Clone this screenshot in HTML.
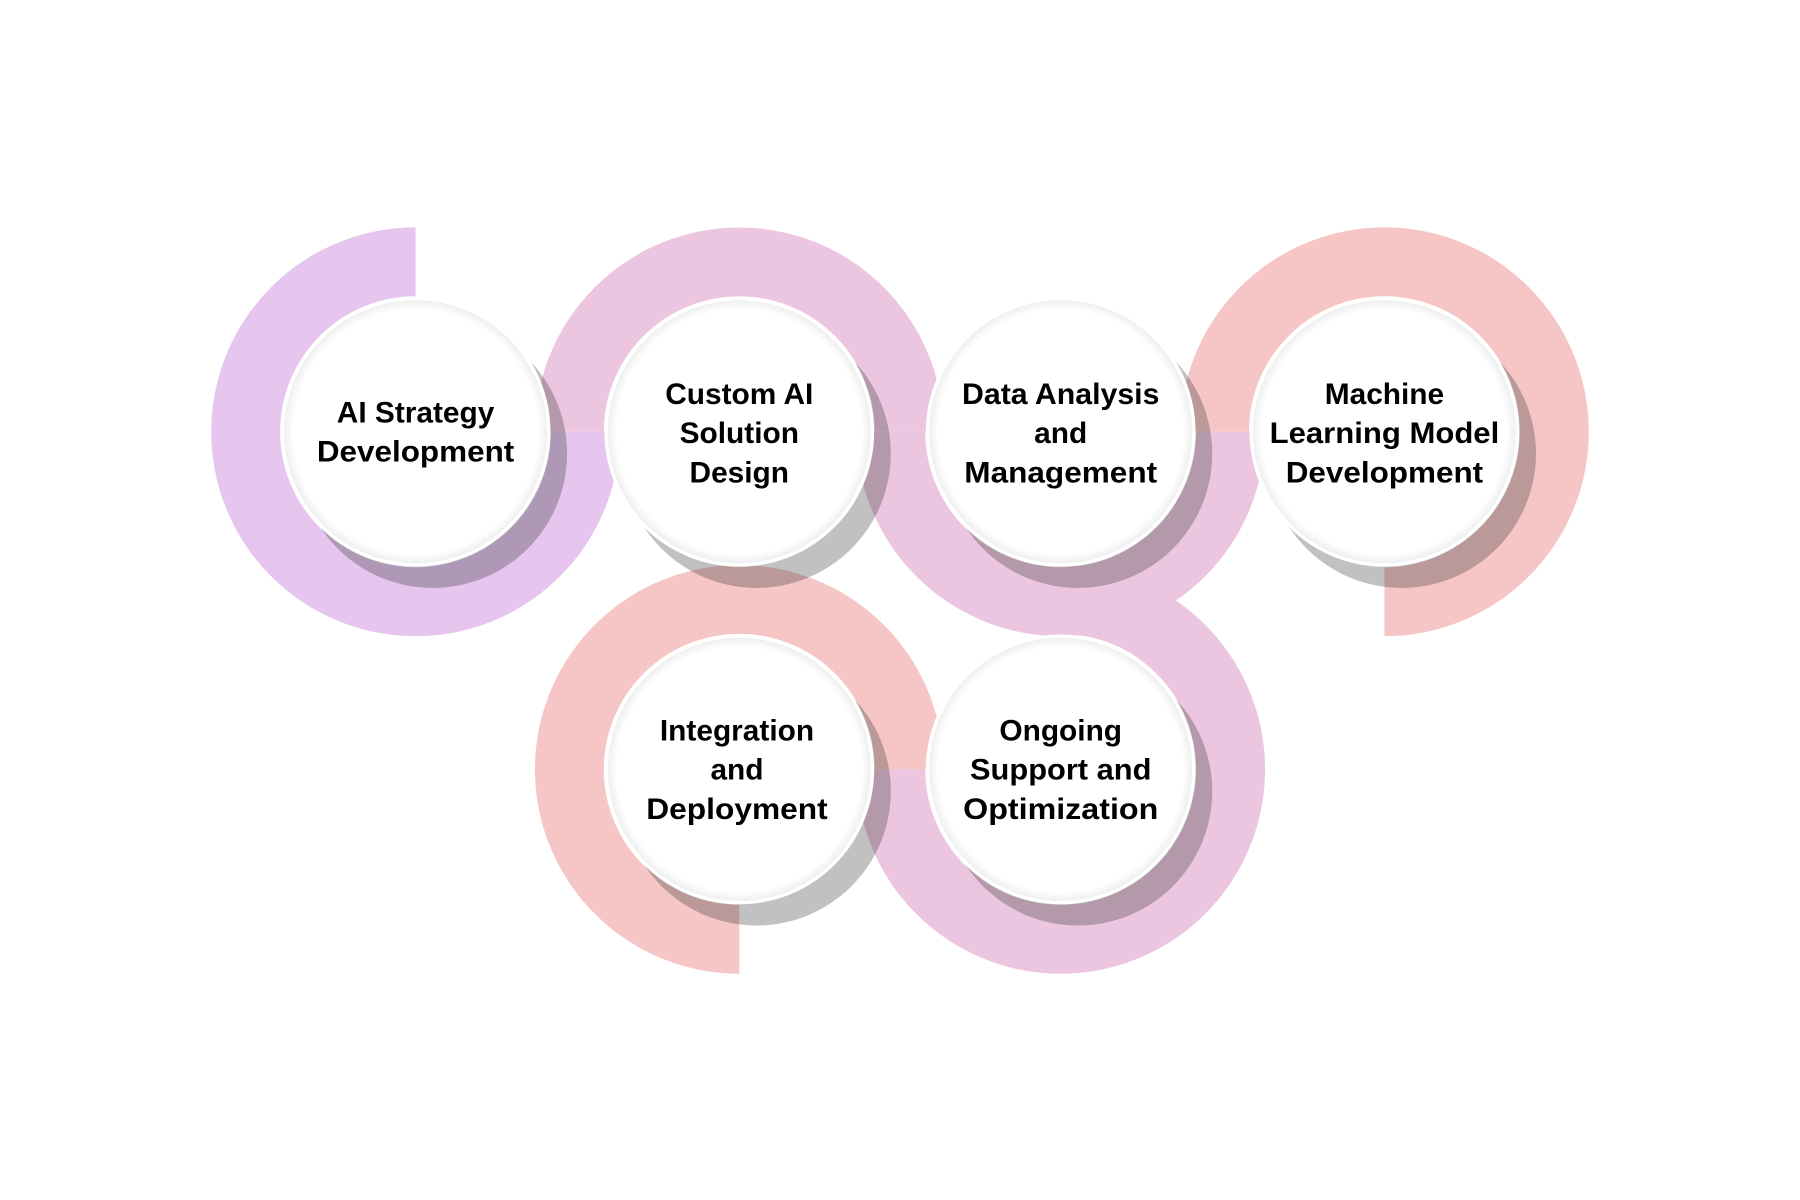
<!DOCTYPE html>
<html><head><meta charset="utf-8"><style>
html,body{margin:0;padding:0;background:#fff;}
svg{display:block;}
text{font-family:"Liberation Sans",sans-serif;font-weight:bold;font-size:26px;fill:#000;text-anchor:middle;}
</style></head><body>
<svg width="1800" height="1200" viewBox="0 0 1568 1045" preserveAspectRatio="none">
<defs>
<radialGradient id="wg" cx="50%" cy="50%" r="50%">
<stop offset="92%" stop-color="#fff"/><stop offset="100%" stop-color="#ececec"/>
</radialGradient>
</defs>
<g fill="none" stroke-width="60">
<path d="M362 228 A148 148 0 1 0 510 376" stroke="#e6c5ee"/>
<path d="M496 376 A148 148 0 0 1 792 376" stroke="#ecc6e0"/>
<path d="M776 376 A148 148 0 0 0 1072 376" stroke="#ecc6e0"/>
<path d="M1058 376 A148 148 0 1 1 1206 524" stroke="#f6c6c6"/>
<path d="M644 818 A148 148 0 1 1 792 670" stroke="#f6c6c6"/>
<path d="M924 522 A148 148 0 1 1 776 670" stroke="#ecc6e0"/>
</g>
<g fill="rgba(50,50,50,0.3)">
<circle cx="377" cy="395" r="117"/>
<circle cx="659" cy="395" r="117"/>
<circle cx="939" cy="395" r="117"/>
<circle cx="1221" cy="395" r="117"/>
<circle cx="659" cy="689" r="117"/>
<circle cx="939" cy="689" r="117"/>
</g>
<g fill="url(#wg)" stroke="#fff" stroke-width="3">
<circle cx="362" cy="376" r="116"/>
<circle cx="644" cy="376" r="116"/>
<circle cx="924" cy="376" r="116"/>
<circle cx="1206" cy="376" r="116"/>
<circle cx="644" cy="670" r="116"/>
<circle cx="924" cy="670" r="116"/>
</g>
<text x="362" y="368">AI Strategy</text>
<text x="362" y="402" textLength="172" lengthAdjust="spacingAndGlyphs">Development</text>
<text x="644" y="352">Custom AI</text>
<text x="644" y="386">Solution</text>
<text x="644" y="420">Design</text>
<text x="924" y="352" textLength="172" lengthAdjust="spacingAndGlyphs">Data Analysis</text>
<text x="924" y="386">and</text>
<text x="924" y="420" textLength="168" lengthAdjust="spacingAndGlyphs">Management</text>
<text x="1206" y="352">Machine</text>
<text x="1206" y="386" textLength="200" lengthAdjust="spacingAndGlyphs">Learning Model</text>
<text x="1206" y="420" textLength="172" lengthAdjust="spacingAndGlyphs">Development</text>
<text x="642" y="645">Integration</text>
<text x="642" y="679">and</text>
<text x="642" y="713" textLength="158" lengthAdjust="spacingAndGlyphs">Deployment</text>
<text x="924" y="645">Ongoing</text>
<text x="924" y="679" textLength="158" lengthAdjust="spacingAndGlyphs">Support and</text>
<text x="924" y="713" textLength="170" lengthAdjust="spacingAndGlyphs">Optimization</text>
</svg>
</body></html>
